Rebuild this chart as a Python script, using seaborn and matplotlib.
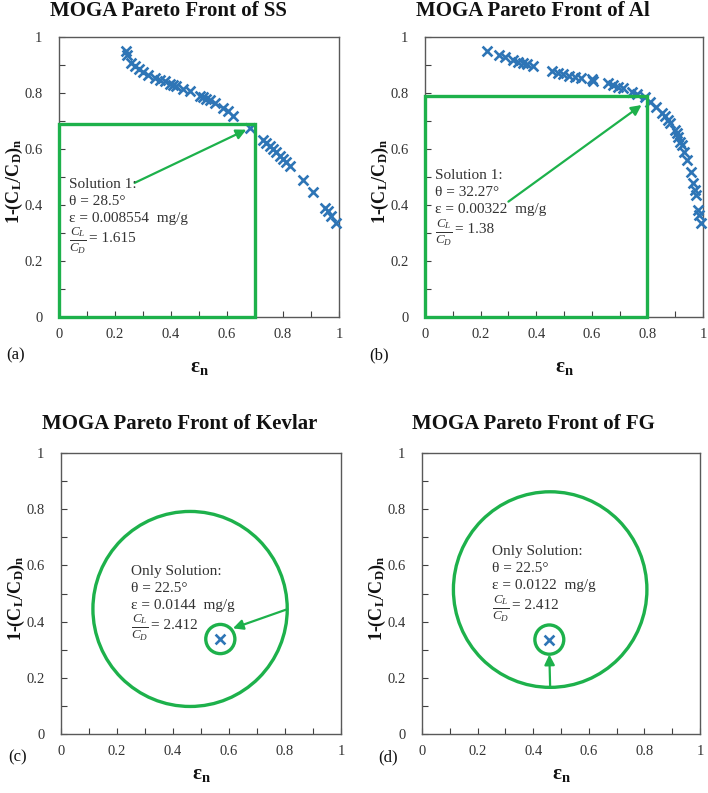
import numpy as np
import pandas as pd
import matplotlib
matplotlib.use("Agg")
import matplotlib.pyplot as plt
import seaborn as sns
from matplotlib.patches import Rectangle, Circle
from matplotlib.ticker import MultipleLocator, FuncFormatter

# Pareto front points (eps_n, 1-(CL/CD)_n)
ss_eps = [0.240, 0.243, 0.258, 0.270, 0.286, 0.300, 0.318, 0.342, 0.360, 0.377,
          0.395, 0.407, 0.419, 0.443, 0.467, 0.502, 0.514, 0.526, 0.538, 0.556,
          0.586, 0.604, 0.621, 0.681, 0.729, 0.740, 0.752, 0.764, 0.776, 0.788,
          0.800, 0.812, 0.824, 0.871, 0.907, 0.949, 0.961, 0.973, 0.990]
ss_obj = [0.949, 0.937, 0.907, 0.898, 0.886, 0.874, 0.865, 0.854, 0.848, 0.842,
          0.833, 0.830, 0.824, 0.814, 0.806, 0.790, 0.786, 0.780, 0.774, 0.764,
          0.746, 0.735, 0.719, 0.675, 0.633, 0.621, 0.612, 0.601, 0.588, 0.576,
          0.564, 0.552, 0.538, 0.490, 0.446, 0.389, 0.377, 0.360, 0.336]

al_eps = [0.224, 0.267, 0.288, 0.318, 0.336, 0.354, 0.366, 0.387, 0.456, 0.480,
          0.498, 0.519, 0.540, 0.560, 0.600, 0.606, 0.659, 0.677, 0.695, 0.713,
          0.743, 0.761, 0.791, 0.809, 0.831, 0.851, 0.863, 0.875, 0.881, 0.899,
          0.905, 0.911, 0.917, 0.923, 0.932, 0.941, 0.957, 0.965, 0.971, 0.975,
          0.983, 0.987, 0.992]
al_obj = [0.951, 0.936, 0.927, 0.918, 0.912, 0.906, 0.902, 0.898, 0.879, 0.873,
          0.868, 0.862, 0.858, 0.855, 0.849, 0.844, 0.835, 0.829, 0.823, 0.817,
          0.805, 0.796, 0.787, 0.769, 0.751, 0.727, 0.718, 0.704, 0.692, 0.668,
          0.656, 0.644, 0.626, 0.614, 0.590, 0.561, 0.519, 0.477, 0.454, 0.436,
          0.382, 0.364, 0.337]

kev_eps = [0.569]
kev_obj = [0.338]
fg_eps = [0.458]
fg_obj = [0.336]

# highlighted regions
ss_box = (0.70, 0.69)
al_box = (0.80, 0.79)
kev_ring = (0.461, 0.445, 0.347)
fg_ring = (0.461, 0.514, 0.348)

titles = ["MOGA Pareto Front of SS", "MOGA Pareto Front of Al",
          "MOGA Pareto Front of Kevlar", "MOGA Pareto Front of FG"]
panel_tags = ["(a)", "(b)", "(c)", "(d)"]
notes = ["Solution 1:\nθ = 28.5°\nε = 0.008554  mg/g",
         "Solution 1:\nθ = 32.27°\nε = 0.00322  mg/g",
         "Only Solution:\nθ = 22.5°\nε = 0.0144  mg/g",
         "Only Solution:\nθ = 22.5°\nε = 0.0122  mg/g"]
ratios = ["= 1.615", "= 1.38", "= 2.412", "= 2.412"]

sns.set_theme(style="white")
plt.rcParams['font.family'] = ['Liberation Serif', 'DejaVu Serif']
plt.rcParams['mathtext.fontset'] = 'custom'
plt.rcParams['mathtext.rm'] = 'Liberation Serif'
plt.rcParams['mathtext.it'] = 'Liberation Serif:italic'
plt.rcParams['mathtext.bf'] = 'Liberation Serif:bold'

blue = '#2E75B6'
green = '#1DB14B'
txt = '#333333'
W, H = 708, 793

fig = plt.figure(figsize=(W / 100, H / 100), dpi=100)
fig.patch.set_facecolor('white')

# axes boxes in pixels: left, top, right, bottom
boxes = [(59, 37, 339, 317), (425, 37, 703, 317),
         (61, 453, 341, 734), (422, 453, 700, 734)]
axes = []
for l, t, r, b in boxes:
    axes.append(fig.add_axes([l / W, 1 - b / H, (r - l) / W, (b - t) / H]))

xlabel_y = [368, 368, 775, 775]


def style_axis(ax, box, xl_y):
    l, t, r, b = box
    ax.set_xlim(0, 1)
    ax.set_ylim(0, 1)
    ax.xaxis.set_major_locator(MultipleLocator(0.2))
    ax.yaxis.set_major_locator(MultipleLocator(0.2))
    ax.xaxis.set_minor_locator(MultipleLocator(0.1))
    ax.yaxis.set_minor_locator(MultipleLocator(0.1))
    fmt = FuncFormatter(lambda v, p: '%g' % round(v, 2))
    ax.xaxis.set_major_formatter(fmt)
    ax.yaxis.set_major_formatter(fmt)
    ax.tick_params(which='both', direction='in', length=4, width=0.8,
                   color='#404040', top=False, right=False,
                   bottom=True, left=True, labelsize=10.5, labelcolor=txt)
    ax.tick_params(axis='y', which='major', pad=12)
    ax.tick_params(axis='x', which='major', pad=8)
    for s in ax.spines.values():
        s.set_color('#595959')
        s.set_linewidth(1.0)
    ax.set_xlabel(r"$\mathbf{ε_n}$", fontsize=15, color='#111111')
    ax.xaxis.label.set_va('center')
    ax.xaxis.set_label_coords(0.5, (b - xl_y) / (b - t))
    ax.set_ylabel(r"1-$\mathbf{(C_L/C_D)_n}$", fontsize=13, fontweight='bold',
                  color='#111111')
    ax.yaxis.label.set_va('center')
    ax.yaxis.set_label_coords(-45 / (r - l), 0.485)
    ax.grid(False)


series = [(ss_eps, ss_obj), (al_eps, al_obj), (kev_eps, kev_obj), (fg_eps, fg_obj)]
for ax, (ex, oy), box, xy in zip(axes, series, boxes, xlabel_y):
    df = pd.DataFrame({'eps': ex, 'obj': oy})
    sns.scatterplot(data=df, x='eps', y='obj', marker='x', color=blue,
                    s=50, linewidth=1.9, ax=ax, zorder=4, clip_on=False)
    style_axis(ax, box, xy)


def add_note(ax, x0, top, i):
    ax.text(x0, top, notes[i], fontsize=11, color=txt, va='top', ha='left',
            linespacing=1.4, zorder=6)
    ax.text(x0, top - 0.224, r"$\frac{C_L}{C_D}$", fontsize=13.5, color=txt,
            va='center', ha='left', zorder=6)
    ax.text(x0 + 0.072, top - 0.216, ratios[i], fontsize=11, color=txt,
            va='center', ha='left', zorder=6)


arrow_kw = dict(arrowstyle='-|>', color=green, lw=1.6, mutation_scale=15,
                shrinkA=0, shrinkB=0)

# (a) SS
ax = axes[0]
ax.add_patch(Rectangle((0, 0), ss_box[0], ss_box[1], fill=False, ec=green,
                       lw=2.4, zorder=5, clip_on=False))
ax.annotate("", xy=(0.669, 0.669), xytext=(0.27, 0.479),
            arrowprops=arrow_kw, zorder=6)
add_note(ax, 0.036, 0.498, 0)

# (b) Al
ax = axes[1]
ax.add_patch(Rectangle((0, 0), al_box[0], al_box[1], fill=False, ec=green,
                       lw=2.4, zorder=5, clip_on=False))
ax.annotate("", xy=(0.779, 0.757), xytext=(0.30, 0.412),
            arrowprops=arrow_kw, zorder=6)
add_note(ax, 0.036, 0.527, 1)

# (c) Kevlar
ax = axes[2]
cx, cy, cr = kev_ring
ax.add_patch(Circle((cx, cy), cr, fill=False, ec=green, lw=2.4, zorder=5))
ax.add_patch(Circle((kev_eps[0], kev_obj[0]), 0.052, fill=False, ec=green,
                    lw=2.4, zorder=5))
ax.annotate("", xy=(0.614, 0.376), xytext=(cx + cr, 0.444),
            arrowprops=arrow_kw, zorder=6)
add_note(ax, 0.25, 0.603, 2)

# (d) FG
ax = axes[3]
cx, cy, cr = fg_ring
ax.add_patch(Circle((cx, cy), cr, fill=False, ec=green, lw=2.4, zorder=5))
ax.add_patch(Circle((fg_eps[0], fg_obj[0]), 0.052, fill=False, ec=green,
                    lw=2.4, zorder=5))
ax.annotate("", xy=(0.458, 0.283), xytext=(0.461, cy - cr),
            arrowprops=arrow_kw, zorder=6)
add_note(ax, 0.25, 0.672, 3)

# titles and panel tags placed in pixels
title_pos = [(168, 11), (533, 11), (180, 424), (533, 424)]
for t, (x, y) in zip(titles, title_pos):
    fig.text(x / W, 1 - y / H, t, ha='center', va='center', fontsize=15,
             fontweight='bold', color='#111111')
tag_pos = [(16, 355), (379, 355), (18, 757), (388, 757)]
for t, (x, y) in zip(panel_tags, tag_pos):
    fig.text(x / W, 1 - y / H, t, ha='center', va='center', fontsize=12,
             color='#111111')

plt.savefig('out.png', dpi=100, facecolor='white')
